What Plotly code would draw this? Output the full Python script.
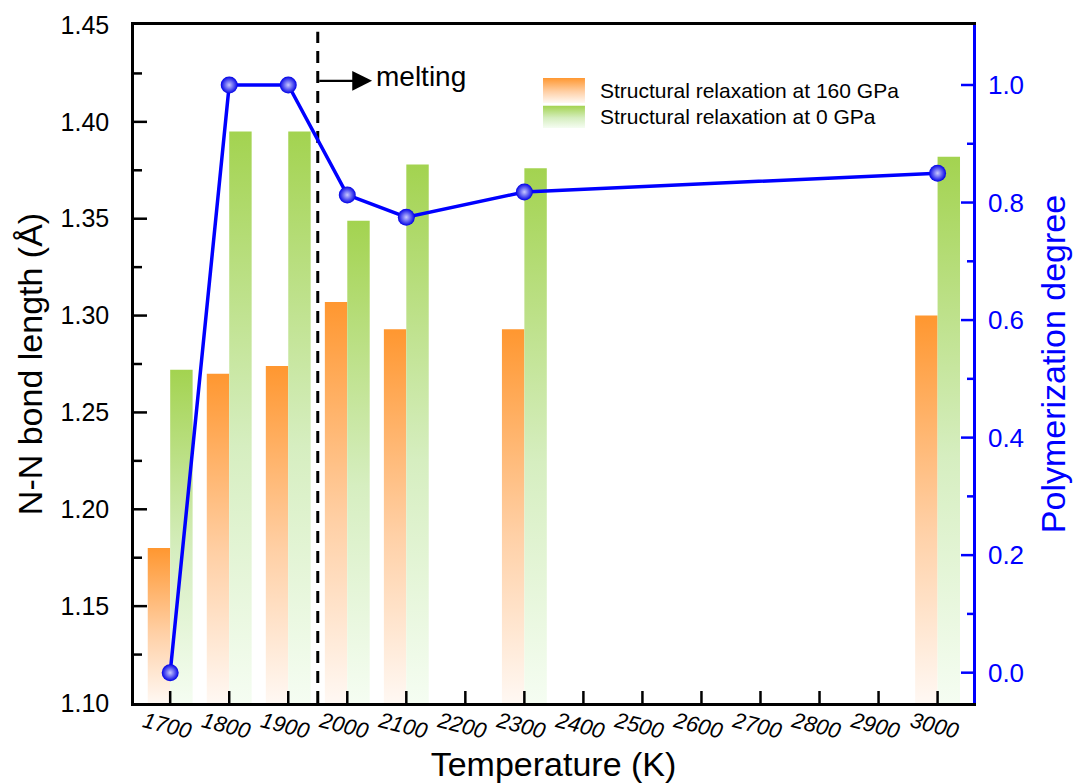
import plotly.graph_objects as go

# Temperatures (K) with bars / polymerization points
temps = [1700, 1800, 1900, 2000, 2100, 2300, 3000]
# N-N bond length (Å) after structural relaxation
bond_160gpa = [1.180, 1.270, 1.274, 1.307, 1.293, 1.293, 1.300]
bond_0gpa = [1.272, 1.395, 1.395, 1.349, 1.378, 1.376, 1.382]
# Polymerization degree
poly_degree = [0.0, 1.0, 1.0, 0.813, 0.775, 0.818, 0.850]
# Axis ticks
x_ticks = list(range(1700, 3001, 100))
y_ticks = [1.10, 1.15, 1.20, 1.25, 1.30, 1.35, 1.40, 1.45]
y_minor = [1.125, 1.175, 1.225, 1.275, 1.325, 1.375, 1.425]
y2_ticks = [0.0, 0.2, 0.4, 0.6, 0.8, 1.0]
y2_minor = [0.1, 0.3, 0.5, 0.7, 0.9]
melting_T = 1950
series_names = ["Structural relaxation at 160 GPa", "Structural relaxation at 0 GPa"]

BASE = 1.10
BAR_W = 38
Y_RANGE = [1.10, 1.45]
Y2_RANGE = [-0.0516, 1.1021]
X_RANGE = [1638.7, 3060]

ORANGE_SCALE = [[0, "#fff8f3"], [0.45, "#ffd0a6"], [1, "#ff9730"]]
GREEN_SCALE = [[0, "#f5fdf2"], [0.45, "#d6eec0"], [1, "#a3d350"]]
BLUE = "#0000ff"

FONT = "Liberation Sans, Arial, sans-serif"


def bar_outline(xc, val, side):
    x0, x1 = (xc - BAR_W, xc) if side < 0 else (xc, xc + BAR_W)
    return [x0, x0, x1, x1, x0], [BASE, val, val, BASE, BASE]


fig = go.Figure()

series = [
    (series_names[0], bond_160gpa, -1, ORANGE_SCALE, "#ff9730"),
    (series_names[1], bond_0gpa, 1, GREEN_SCALE, "#a3d350"),
]
for name, vals, side, scale, col in series:
    for t, v in zip(temps, vals):
        xs, ys = bar_outline(t, v, side)
        fig.add_trace(go.Scatter(
            x=xs, y=ys, mode="lines", line=dict(width=0, color=col),
            fill="toself", fillcolor=col,
            fillgradient=dict(type="vertical", colorscale=scale),
            name=name, showlegend=False, hoverinfo="skip",
        ))

# legend swatches drawn on a hidden unit axis pair laid over the plot
sw_x = [0.4875, 0.4875, 0.5375, 0.5375, 0.4875]
for (name, _, _, scale, col), (y0, y1) in zip(series, [(0.885, 0.922), (0.848, 0.881)]):
    fig.add_trace(go.Scatter(
        x=sw_x, y=[y0, y1, y1, y0, y0], xaxis="x3", yaxis="y3",
        mode="lines", line=dict(width=0, color=col),
        fill="toself", fillcolor=col,
        fillgradient=dict(type="vertical", colorscale=scale),
        showlegend=False, hoverinfo="skip",
    ))
    fig.add_annotation(x=0.553, y=(y0 + y1) / 2, xref="x3", yref="y3",
                       text=name, showarrow=False, xanchor="left",
                       yanchor="middle", font=dict(family=FONT, size=21, color="black"))

fig.add_trace(go.Scatter(
    x=temps, y=poly_degree, yaxis="y2", mode="lines+markers",
    line=dict(color=BLUE, width=3.5),
    marker=dict(size=17, color="#0000e6",
                gradient=dict(type="radial", color="#c8c8ff")),
    showlegend=False,
))


# inward-pointing tick marks (fixed pixel length) on the frame
def frame_tick(side, value, length, color, yref="y"):
    common = dict(type="line", layer="above", line=dict(color=color, width=2.5))
    if side == "left":
        fig.add_shape(xref="paper", xsizemode="pixel", xanchor=0, x0=0, x1=length,
                      yref=yref, y0=value, y1=value, **common)
    elif side == "right":
        fig.add_shape(xref="paper", xsizemode="pixel", xanchor=1, x0=0, x1=-length,
                      yref=yref, y0=value, y1=value, **common)
    else:
        fig.add_shape(yref="paper", ysizemode="pixel", yanchor=0, y0=0, y1=length,
                      xref="x", x0=value, x1=value, **common)


for v in y_ticks[1:-1]:
    frame_tick("left", v, 13, "black")
for v in y_minor:
    frame_tick("left", v, 8, "black")
for v in x_ticks:
    frame_tick("bottom", v, 12, "black")
for v in y2_ticks:
    frame_tick("right", v, 12, BLUE, yref="y2")
for v in y2_minor:
    frame_tick("right", v, 6, BLUE, yref="y2")

# melting boundary
fig.add_shape(type="line", x0=melting_T, x1=melting_T, y0=BASE, y1=1.4465,
              xref="x", yref="y", layer="below",
              line=dict(color="black", width=3, dash="12px,8px"))
fig.add_annotation(x=2042, y=1.4212, ax=melting_T, ay=1.4212,
                   xref="x", yref="y", axref="x", ayref="y",
                   text="", showarrow=True, arrowhead=2, arrowsize=1.8,
                   arrowwidth=2.2, arrowcolor="black")
fig.add_annotation(x=2046, y=1.4232, xref="x", yref="y", text="melting",
                   showarrow=False, xanchor="left", yanchor="middle",
                   font=dict(family=FONT, size=28, color="black"))

fig.update_layout(
    width=1077, height=784,
    margin=dict(l=134, r=104, t=25, b=81, autoexpand=False),
    paper_bgcolor="white", plot_bgcolor="white",
    font=dict(family=FONT, color="black"),
    showlegend=False,
    xaxis=dict(
        range=X_RANGE, tickvals=x_ticks,
        ticktext=[str(t) for t in x_ticks], tickangle=14,
        tickfont=dict(size=22, style="italic"),
        ticklabelshift=-26, ticklabelstandoff=-5,
        ticks="",
        showline=True, linewidth=2.5, linecolor="black", mirror=True,
        showgrid=False, zeroline=False,
        title=dict(text="Temperature (K)", font=dict(size=34), standoff=10),
    ),
    yaxis=dict(
        range=Y_RANGE, tickvals=y_ticks, tickformat=".2f",
        tickfont=dict(size=25), ticklabelstandoff=17, ticks="",
        showline=True, linewidth=2.5, linecolor="black",
        showgrid=False, zeroline=False,
        title=dict(text="N-N bond length (Å)", font=dict(size=34), standoff=8),
    ),
    yaxis2=dict(
        overlaying="y", side="right", range=Y2_RANGE,
        tickvals=y2_ticks, tickformat=".1f",
        tickfont=dict(size=26, color=BLUE), ticklabelstandoff=7, ticks="",
        showline=True, linewidth=2.5, linecolor=BLUE,
        showgrid=False, zeroline=False,
        title=dict(text="Polymerization degree",
                   font=dict(size=34, color=BLUE), standoff=19),
    ),
    xaxis3=dict(overlaying="x", range=[0, 1], visible=False, fixedrange=True),
    yaxis3=dict(overlaying="y", range=[0, 1], visible=False, fixedrange=True),
)

fig.write_html("out.html")
